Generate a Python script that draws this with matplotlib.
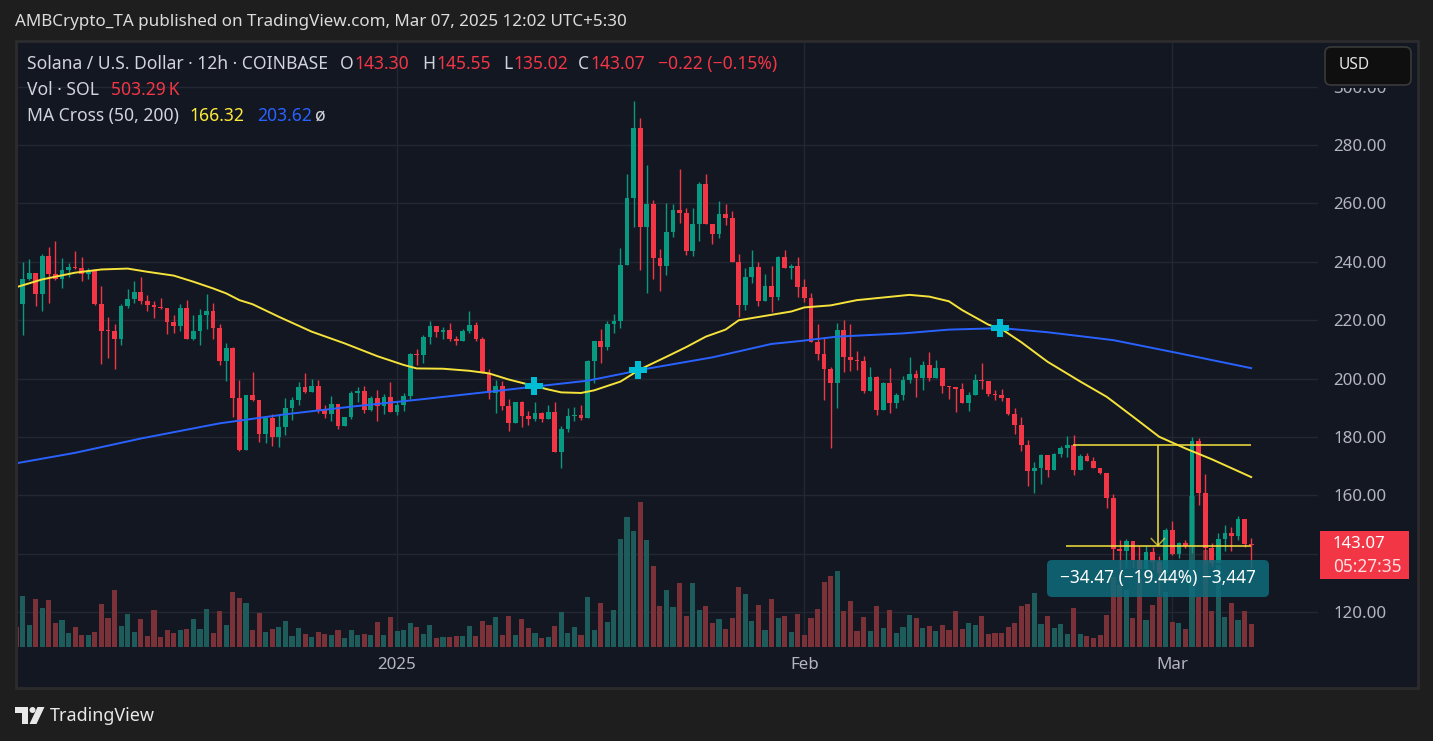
"""
Solana / USD 12h candles with volume and MA cross, TradingView dark style.
"""

import numpy as np
import pandas as pd
import matplotlib
matplotlib.use('Agg')
import matplotlib.pyplot as plt
from matplotlib.patches import Rectangle, FancyBboxPatch, Polygon, Ellipse
from matplotlib.transforms import blended_transform_factory, Affine2D, IdentityTransform

plt.rcParams['font.family'] = ['Noto Sans', 'DejaVu Sans']

# Data ------------------------------------------------------------------------

start = pd.Timestamp('2024-12-03 00:00')   # first 12h candle on screen
open_first = 226.3

close = [
    225.5, 234.1, 236.2, 229.1, 242.0, 235.9, 234.1, 237.2, 238.2, 237.9,
    235.9, 237.2, 225.7, 216.4, 216.2, 213.7, 224.9, 227.3, 229.7, 226.6,
    225.3, 224.6, 224.2, 219.5, 218.1, 224.2, 213.7, 216.3, 221.8, 223.1,
    217.5, 206.1, 210.6, 193.5, 175.6, 194.4, 192.7, 181.0, 186.5, 180.0,
    183.4, 189.9, 192.7, 197.1, 195.4, 197.5, 189.3, 187.9, 191.3, 183.8,
    186.9, 195.1, 195.8, 189.3, 193.4, 190.6, 193.7, 188.6, 191.0, 194.0,
    208.4, 208.1, 214.2, 218.0, 216.0, 216.7, 213.6, 212.9, 216.3, 218.4,
    213.6, 201.9, 195.1, 197.5, 190.6, 184.8, 192.0, 187.2, 186.2, 188.2,
    186.2, 188.6, 174.9, 182.7, 187.2, 187.5, 186.5, 206.0, 212.9, 210.8,
    218.7, 219.7, 238.9, 261.9, 285.9, 252.0, 259.7, 241.3, 238.7, 250.2,
    257.7, 256.9, 243.7, 253.0, 266.7, 253.0, 249.6, 256.4, 255.0, 239.9,
    225.2, 234.7, 238.2, 226.5, 231.7, 227.9, 241.6, 238.0, 238.5, 231.5,
    227.7, 212.7, 208.5, 203.4, 198.6, 216.6, 207.5, 206.5, 206.1, 195.8,
    200.5, 189.2, 198.5, 191.6, 194.4, 199.5, 201.6, 200.2, 204.7, 200.2,
    203.6, 197.5, 197.2, 196.4, 191.7, 194.4, 199.5, 199.2, 194.7, 194.4,
    193.4, 188.0, 184.1, 177.3, 168.4, 169.4, 173.9, 168.7, 174.2, 176.2,
    177.3, 168.7, 173.5, 171.8, 169.5, 167.8, 159.2, 141.8, 141.1, 144.5,
    137.9, 134.9, 140.6, 137.2, 133.3, 148.2, 139.9, 143.7, 142.7, 178.6,
    160.9, 142.0, 136.7, 145.2, 147.1, 146.2, 151.9, 143.3, 143.07,
]

high = [
    231.5, 239.9, 241.0, 236.2, 242.7, 245.2, 247.1, 241.3, 239.6, 243.7,
    241.6, 237.8, 237.5, 231.7, 221.0, 218.6, 225.4, 230.7, 233.4, 234.8,
    228.6, 226.6, 227.6, 224.2, 221.8, 225.6, 226.9, 221.8, 223.8, 229.0,
    225.9, 218.7, 212.2, 210.8, 199.5, 194.4, 202.3, 192.7, 187.0, 188.0,
    187.5, 193.5, 193.7, 198.8, 201.9, 199.9, 199.5, 191.0, 194.0, 191.3,
    186.9, 195.8, 197.1, 197.5, 194.0, 196.1, 194.7, 198.8, 192.3, 195.1,
    208.8, 210.1, 214.9, 219.7, 218.0, 217.7, 219.0, 214.6, 217.0, 223.2,
    219.4, 214.3, 203.3, 199.5, 199.2, 193.0, 192.0, 192.3, 188.9, 192.0,
    188.6, 191.0, 192.0, 183.8, 189.9, 190.3, 191.0, 206.4, 212.9, 217.0,
    219.7, 222.1, 244.8, 270.1, 295.0, 289.3, 273.2, 261.2, 244.4, 260.2,
    259.7, 271.8, 258.3, 258.5, 267.3, 270.1, 253.0, 260.8, 259.7, 257.4,
    242.7, 237.9, 244.0, 239.9, 235.8, 238.5, 242.0, 243.9, 239.2, 241.6,
    234.1, 229.3, 218.7, 214.4, 204.1, 219.0, 220.1, 218.7, 209.6, 207.9,
    204.0, 200.9, 198.8, 203.7, 195.1, 200.9, 207.4, 202.9, 206.0, 209.1,
    206.4, 203.6, 197.5, 197.2, 198.5, 195.4, 201.6, 205.3, 199.2, 196.1,
    196.4, 193.4, 189.9, 186.9, 179.0, 171.4, 174.3, 173.9, 174.6, 176.9,
    180.5, 180.7, 174.2, 174.6, 173.0, 169.5, 167.8, 160.5, 144.7, 145.2,
    144.5, 142.7, 142.7, 142.5, 139.3, 148.7, 151.4, 144.2, 144.7, 180.0,
    179.7, 167.4, 143.8, 147.0, 149.9, 149.3, 152.9, 151.9, 145.55,
]

low = [
    222.9, 214.9, 233.8, 224.9, 223.3, 226.0, 233.8, 231.1, 234.7, 237.5,
    233.4, 234.1, 225.3, 205.1, 207.2, 203.4, 211.6, 224.2, 225.9, 225.7,
    223.3, 220.9, 223.9, 215.4, 215.7, 216.4, 213.7, 213.2, 211.6, 217.1,
    213.7, 204.8, 199.3, 187.0, 175.2, 175.6, 192.5, 178.3, 178.1, 176.9,
    176.6, 180.7, 185.8, 191.0, 195.1, 195.4, 188.2, 186.5, 185.5, 182.7,
    183.8, 186.2, 192.0, 188.2, 188.9, 185.5, 187.9, 188.6, 187.5, 188.9,
    193.0, 204.7, 205.3, 211.9, 214.2, 213.6, 212.9, 211.5, 212.9, 215.6,
    212.9, 201.9, 193.0, 188.2, 189.2, 182.0, 184.8, 183.4, 184.1, 185.5,
    185.2, 186.2, 174.9, 169.4, 181.7, 185.5, 185.8, 186.5, 198.5, 205.3,
    209.8, 215.6, 217.5, 238.9, 252.0, 237.3, 229.5, 234.3, 230.1, 235.6,
    248.6, 253.3, 242.3, 242.0, 247.1, 253.0, 246.1, 248.2, 252.6, 239.9,
    221.0, 223.6, 232.8, 224.8, 226.5, 222.8, 227.0, 238.0, 234.1, 228.0,
    226.4, 212.7, 206.5, 192.8, 176.4, 190.0, 202.4, 202.7, 203.1, 195.1,
    195.8, 187.5, 189.2, 188.2, 190.0, 192.7, 198.5, 193.8, 196.1, 199.2,
    200.2, 195.1, 193.0, 188.6, 191.7, 188.9, 194.4, 196.4, 194.2, 192.7,
    192.3, 187.6, 181.0, 175.2, 163.3, 160.9, 164.0, 166.4, 168.7, 173.3,
    173.3, 167.1, 168.7, 171.8, 169.5, 167.4, 155.8, 137.9, 132.2, 135.6,
    135.6, 133.3, 134.9, 134.9, 125.9, 133.3, 139.6, 138.7, 141.9, 140.2,
    156.8, 136.7, 135.8, 136.7, 141.1, 141.1, 144.7, 142.4, 135.02,
]

# volume in thousands of SOL
volume_k = [
    440, 1122, 484, 1056, 858, 1034, 528, 594, 308, 440,
    264, 264, 330, 946, 638, 1254, 462, 726, 330, 616,
    242, 814, 220, 374, 308, 374, 396, 616, 396, 836,
    308, 792, 484, 1210, 1078, 968, 374, 748, 330, 396,
    440, 572, 242, 418, 286, 220, 330, 286, 264, 374,
    198, 374, 264, 286, 264, 550, 264, 660, 352, 374,
    528, 440, 286, 484, 198, 220, 220, 242, 242, 462,
    242, 572, 484, 660, 264, 682, 264, 616, 418, 308,
    198, 220, 462, 770, 308, 440, 264, 1100, 374, 968,
    550, 814, 2376, 2860, 2552, 3190, 2354, 1782, 902, 1254,
    880, 1408, 682, 1408, 814, 902, 528, 616, 396, 638,
    1320, 1166, 572, 924, 374, 1056, 638, 682, 330, 726,
    264, 638, 836, 1430, 1562, 1672, 792, 1012, 352, 660,
    352, 902, 418, 814, 308, 440, 704, 638, 418, 462,
    352, 484, 374, 792, 396, 528, 484, 682, 286, 308,
    308, 440, 528, 902, 946, 1188, 506, 682, 418, 506,
    286, 858, 286, 242, 198, 264, 704, 1540, 1364, 1254,
    638, 1518, 594, 924, 1100, 1210, 550, 528, 396, 3322,
    1100, 2134, 792, 1804, 660, 968, 594, 792, 503,
]

# moving averages (bar index, value)
ma50_bar = [0, 4, 9, 13, 17, 20, 24, 27, 30, 32, 34, 36, 40, 45, 50, 55, 59, 61, 65, 69,
            72, 75, 78, 81, 83, 86, 88, 90, 92, 95, 99, 102, 105, 108, 110, 114, 118, 120,
            124, 128, 132, 136, 139, 142, 144, 146, 148, 150, 153, 157, 162, 166, 170, 174,
            178, 182, 188]
ma50 = [231.3, 234.0, 236.3, 237.4, 237.7, 236.6, 235.3, 233.2, 230.9, 229.2, 226.9, 225.5,
        221.2, 216.1, 212.1, 207.7, 204.7, 203.5, 203.4, 202.7, 201.8, 199.7, 198.0, 196.3,
        195.3, 195.1, 196.0, 197.5, 199.0, 203.2, 207.5, 210.8, 214.4, 216.8, 220.0, 221.5,
        223.0, 224.4, 225.1, 226.9, 227.8, 228.7, 228.1, 226.5, 223.5, 221.0, 218.5, 217.0,
        212.5, 205.8, 199.0, 193.8, 187.0, 180.1, 176.1, 172.4, 166.3]
ma200_bar = [0, 9, 19, 31, 41, 51, 62, 72, 79, 87, 93, 95, 106, 115, 119, 125, 135, 142,
             150, 157, 167, 177, 188]
ma200 = [171.0, 174.6, 179.5, 184.7, 187.8, 190.4, 193.0, 195.5, 197.3, 199.3, 202.0, 203.0,
         207.3, 211.9, 212.8, 214.4, 215.5, 216.8, 217.3, 215.9, 213.2, 208.7, 203.6]

cross_bar = [78.8, 94.7, 149.8]
cross_price = [197.5, 203.0, 217.2]

price_ticks = [120, 140, 160, 180, 200, 220, 240, 260, 280, 300]
hidden_tick = 140   # sits under the last-price label
month_dates = ['2025-01-01', '2025-02-01', '2025-03-01']
month_labels = ['2025', 'Feb', 'Mar']

# price range measurement
range_high = 177.30
range_low = 142.83
range_high_from = 160.9
range_low_from = 159.8
range_to = 188.0
range_mid_bar = 173.8
range_text = '\u221234.47 (\u221219.44%) \u22123,447'

header = 'AMBCrypto_TA published on TradingView.com, Mar 07, 2025 12:02 UTC+5:30'

# Colors ----------------------------------------------------------------------
BG = '#1e1e1e'
PANE = '#131722'
GRID = '#232733'
GREEN = '#089981'
RED = '#f23645'
VOL_GREEN = '#1d5c5b'
VOL_RED = '#7a3238'
TXT = '#d1d4dc'
AXT = '#b2b5be'
YEL = '#f5e23a'
BLUE = '#2962ff'

# Figure ----------------------------------------------------------------------
W, H = 1433, 741
fig = plt.figure(figsize=(W / 100, H / 100), dpi=100, facecolor=BG)
renderer = fig.canvas.get_renderer()
PIX = IdentityTransform()

# chart pane
fig.add_artist(Rectangle((16, H - 688), 1402, 647, transform=PIX, facecolor=PANE,
                         edgecolor='#2c2c2e', lw=2, zorder=-1))

ax = fig.add_axes([18 / W, 1 - 647 / H, 1300 / W, 605 / H])
ax.set_facecolor('none')
for s in ax.spines.values():
    s.set_visible(False)

opens = np.array([open_first] + close[:-1])
closes = np.array(close)
highs = np.maximum(np.array(high), np.maximum(opens, closes))
lows = np.minimum(np.array(low), np.minimum(opens, closes))
bars = np.arange(len(closes))
up = closes >= opens
cols = np.where(up, GREEN, RED)

# volume, scaled into the bottom of the pane
vol_top = 605 * 22.0
vol_tf = blended_transform_factory(ax.transData, Affine2D().scale(1, 1 / vol_top) + ax.transAxes)
vol_cols = np.where(up, VOL_GREEN, VOL_RED)
for b, v, c in zip(bars, volume_k, vol_cols):
    ax.add_patch(Rectangle((b - 0.39, 0), 0.78, v, transform=vol_tf, facecolor=c,
                           edgecolor='none', zorder=1))

# candles
ax.vlines(bars, lows, highs, colors=cols, lw=1.0, zorder=2)
body_low = np.minimum(opens, closes)
body_h = np.maximum(np.abs(closes - opens), 0.4)
ax.bar(bars, body_h, bottom=body_low, width=0.72, color=cols, edgecolor='none', zorder=2.5)

# MA cross
ax.plot(ma50_bar, ma50, color=YEL, lw=1.4, solid_joinstyle='round', zorder=3)
ax.plot(ma200_bar, ma200, color=BLUE, lw=1.4, solid_joinstyle='round', zorder=3)
ax.plot(cross_bar, cross_price, 'P', color='#00bcd4', ms=13, mew=0, zorder=4)

# price range tool
ax.hlines(range_high, range_high_from, range_to, color=YEL, lw=1.1, zorder=5)
ax.hlines(range_low, range_low_from, range_to, color=YEL, lw=1.1, zorder=5)
ax.vlines(range_mid_bar, range_low, range_high, color=YEL, lw=1.1, zorder=5)
ax.plot([range_mid_bar - 1.0, range_mid_bar, range_mid_bar + 1.0],
        [range_low + 2.4, range_low, range_low + 2.4], color=YEL, lw=1.1, alpha=0.7, zorder=5)

# axes
ax.set_xlim(0.304, 198.17)
ax.set_ylim(108.1, 315.3)
month_pos = (pd.to_datetime(month_dates) - start) / pd.Timedelta(hours=12)
ax.set_xticks(month_pos)
ax.set_xticklabels(month_labels)
ax.yaxis.tick_right()
ax.set_yticks(price_ticks)
ax.set_yticklabels(['' if v == hidden_tick else f'{v:.2f}' for v in price_ticks])
ax.tick_params(axis='x', length=0, pad=7, colors=AXT, labelsize=12.2)
ax.tick_params(axis='y', length=0, pad=10.8, colors=AXT, labelsize=12.2)
ax.grid(color=GRID, lw=1)
ax.set_axisbelow(True)


# Overlays (pixel coordinates, y from top) -----------------------------------
def label(px, py, s, color, size=10, width=None, ha='left', weight='normal', z=6):
    t = fig.text(px, H - py, s, color=color, fontsize=size, ha=ha, va='center',
                 fontweight=weight, transform=PIX, zorder=z)
    if width:
        w = t.get_window_extent(renderer).width
        t.set_fontsize(size * width / w)
    return t


def text_row(px, py, pieces, size):
    x = px
    for s, c, gap in pieces:
        t = label(x, py, s, c, size)
        x = t.get_window_extent(renderer).x1 + gap


label(15, 22, header, '#dcdcdc', 11, width=612)

t0 = label(27, 64, 'Solana / U.S. Dollar \u00b7 12h \u00b7 COINBASE', TXT, 10, width=301)
fs = t0.get_fontsize()
x0 = t0.get_window_extent(renderer).x1 + 12
text_row(x0, 64, [('O', TXT, 1), ('143.30', RED, 13), ('H', TXT, 1), ('145.55', RED, 12),
                  ('L', TXT, 1), ('135.02', RED, 10), ('C', TXT, 1), ('143.07', RED, 13),
                  ('\u22120.22 (\u22120.15%)', RED, 0)], fs)
text_row(27, 90, [('Vol \u00b7 SOL', TXT, 12), ('503.29\u2009K', RED, 0)], fs)
text_row(27, 116, [('MA Cross (50, 200)', TXT, 11), ('166.32', '#ffeb3b', 12),
                   ('203.62', BLUE, 3), ('\u00f8', TXT, 0)], fs)

# USD button, with the strip of pane behind it that hides the top of "300.00"
fig.add_artist(Rectangle((1319, H - 87.5), 97, 44, transform=PIX, facecolor=PANE,
                         edgecolor='none', zorder=2))
fig.add_artist(FancyBboxPatch((1325, H - 85), 86, 38, boxstyle='round,pad=0,rounding_size=6',
                              transform=PIX, facecolor='#0f0f0f', edgecolor='#3a3a3a',
                              lw=1.2, zorder=3))
label(1339, 65, 'USD', '#e6e6e6', 12, width=31)

# last price label
fig.add_artist(Rectangle((1320, H - 579), 89, 48, transform=PIX, facecolor=RED,
                         edgecolor='none', zorder=3))
label(1333, 544, f'{closes[-1]:.2f}', 'white', 12, width=53, weight='bold')
label(1333, 567, '05:27:35', '#ffdfe2', 12, width=69)

# measurement box
fig.add_artist(FancyBboxPatch((1047, H - 597), 222, 37, boxstyle='round,pad=0,rounding_size=5',
                              transform=PIX, facecolor='#0f6b7b', edgecolor='none',
                              alpha=0.85, zorder=3))
label(1158, 578, range_text, 'white', 13, width=196, ha='center', weight='bold')

# TradingView logo
logo = '#e8e8e8'
fig.add_artist(Polygon([(15, H - 707), (28, H - 707), (28, H - 724), (22, H - 724),
                        (22, H - 713), (15, H - 713)], closed=True, transform=PIX,
                       facecolor=logo, edgecolor='none'))
fig.add_artist(Ellipse((32.5, H - 710), 6, 6, transform=PIX, facecolor=logo, edgecolor='none'))
fig.add_artist(Polygon([(29.5, H - 724), (36.5, H - 724), (44.5, H - 707), (37.5, H - 707)],
                       closed=True, transform=PIX, facecolor=logo, edgecolor='none'))
label(50, 716, 'TradingView', logo, 13, width=105, weight='semibold')

fig.savefig('out.png', dpi=100, facecolor=BG)
